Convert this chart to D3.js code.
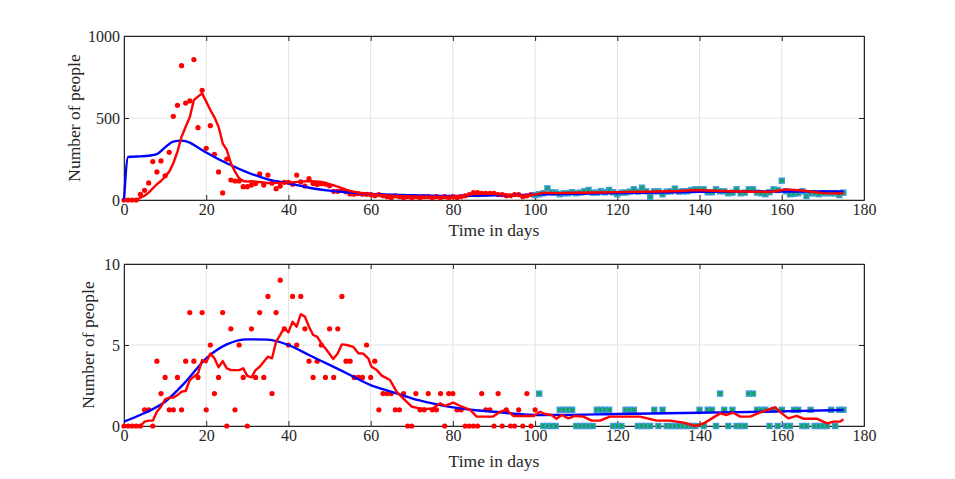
<!DOCTYPE html>
<html><head><meta charset="utf-8">
<script src="https://cdn.jsdelivr.net/npm/d3@7"></script>
<style>body{margin:0;background:#fff}svg{display:block}</style>
</head><body>
<svg id="chart" width="955" height="479"></svg>
<script>
// ---------- DATA ----------
const xTicks = [0,20,40,60,80,100,120,140,160,180];
const topYTicks = [0,500,1000];
const botYTicks = [0,5,10];

// Top panel: daily observed (red dots), days 0..100
const topDotValues = [0,0,0,0,35,59,104,234,171,238,148,291,510,577,819,591,604,856,441,669,315,453,279,171,43,250,122,116,116,81,81,91,100,159,91,152,102,69,85,108,108,96,152,110,85,130,101,95,99,97,87,53,53,59,51,37,35,39,35,35,33,26,33,26,20,14,26,20,14,20,14,20,14,20,20,14,20,14,20,14,20,14,20,26,33,45,45,41,41,41,41,33,33,26,26,33,33,20,26,33,26];
// Top panel: squares, days 100..175
const topSqValues = [30,35,41,71,47,45,35,41,41,47,41,45,53,61,45,45,53,47,61,47,35,45,45,51,65,51,75,53,20,53,53,35,51,53,69,51,53,53,61,65,65,65,47,47,65,53,53,41,45,65,41,45,65,65,45,41,35,47,65,61,118,53,35,38,41,53,24,41,41,35,41,41,41,41,30,45];
// Top panel red (averaged) line
const topRedDays = [0,1,2,3,4,5,6,7,8,9,10,11,12,13,14,15,16,17,18,19,20,21,22,23,24,25,26,27,28,29,30,31,35,40,43,45,48,50,52,54,55,57,60,63,65,70,75,80,83,85,88,90,93,95,98,100,102,105,110,115,120,125,130,135,139,145,150,155,158,161,165,170,175];
const topRedValues = [0,0,0,0,14,26,45,71,96,116,142,173,224,295,386,447,504,610,630,650,600,549,504,447,346,305,224,173,132,116,112,114,104,106,112,116,110,97,81,63,55,45,37,30,26,22,20,22,26,37,40,38,32,28,30,33,45,42,44,46,48,50,52,55,61,55,52,50,52,65,58,42,40];
// Top panel blue (model) line
const topBlueDays = [0,1,2,4,6,8,10,12,14,16,18,20,25,30,35,40,45,50,55,60,70,80,90,100,110,120,130,140,150,160,170,175];
const topBlueValues = [0,262,264,266,270,280,321,356,362,350,320,290,224,169,126,102,75,57,45,37,30,25,28,33,38,42,46,50,51,52,52,52];

// Bottom panel: daily observed (red dots), days 0..100
const botDotValues = [0,0,0,0,0,1,1,0,4,2,3,1,1,3,1,4,7,4,3,7,1,5,2,3,7,0,6,1,5,3,0,6,3,7,3,8,2,7,9,6,5,8,5,8,6,4,3,4,5,3,6,3,6,8,4,4,3,3,3,5,3,4,1,2,2,2,1,1,2,0,0,2,1,1,2,1,1,2,0,2,2,1,1,0,0,0,0,2,1,1,0,2,0,1,0,0,1,0,2,0,1];
// Bottom panel squares, days 101..175
const botSqValues = [2,0,0,0,0,1,1,1,1,0,0,0,0,0,1,1,1,1,0,0,0,1,1,1,0,0,0,0,1,0,1,0,0,0,0,0,0,0,0,1,0,1,1,0,2,1,0,1,0,0,0,2,2,1,1,1,0,1,0,1,0,0,1,1,0,0,1,0,0,0,0,1,0,1,1];
// Bottom red (averaged) line
const botRedDays = [0,1,2,3,4,5,6,7,8,9,10,11,12,13,14,15,16,17,18,19,20,21,22,23,24,25,26,27,28,29,30,31,32,33,34,35,36,37,38,39,40,41,42,43,44,45,46,47,48,49.3,50.9,52,53,54.2,55.8,57,58.2,59.4,60.2,61.5,62.7,64.7,66.3,67.9,70,72,73.6,75.2,76.9,78.1,80.1,81.7,84.2,85.8,89.8,91.5,93.1,94.7,99.6,101.2,102.4,104,105.2,106.5,108.1,109.7,111.7,113.8,115.8,118.2,121.5,125.5,129.6,132.8,136.1,138.9,141,143,145,146.6,148.2,149.9,152.3,154.7,156.5,158.4,160,161.6,163.6,165.3,168.5,171,172.6,174.2,175];
const botRedValues = [0,0,0,0,0,0.27,0.33,0.33,0.88,1.19,1.65,1.75,1.75,1.91,2.12,2.16,2.84,3.05,3.25,4.07,3.93,4.47,4.18,3.62,4.01,3.56,3.45,3.45,3.45,3.56,3.09,3.0,3.45,3.66,3.97,4.28,4.18,5.2,5.62,6.07,5.78,6.44,6.13,6.9,6.75,6.13,5.62,5.51,5.1,4.69,4.14,4.49,5.04,5.0,4.88,4.49,4.47,4.18,3.66,3.45,3.11,2.84,2.12,1.71,1.19,1.09,1.05,1.09,1.4,1.25,1.44,1.25,0.99,0.58,0.58,0.88,0.99,0.62,0.62,0.88,0.74,0.68,0.45,0.68,0.47,0.62,0.58,0.33,0.33,0.58,0.58,0.58,0.33,0.33,0.21,0,0.16,0.47,0.78,0.68,0.82,0.58,0.58,0.82,0.99,1.15,0.78,0.47,0.62,0.45,0.45,0.16,0.27,0.27,0.41];
// Bottom blue (model) line
const botBlueDays = [0,5,10,15,20,25,30,35,40,45,50,55,60,65,70,75,80,85,90,95,100,120,140,160,175];
const botBlueValues = [0.27,0.8,1.5,2.73,4.18,5.04,5.35,5.33,5.0,4.38,3.77,3.15,2.53,2.12,1.71,1.4,1.15,0.99,0.88,0.76,0.68,0.74,0.82,0.9,0.99];

// ---------- DRAW ----------
const svg = d3.select("#chart");
const FONT = "Liberation Serif, Times New Roman, serif";
const RED = "#ff0000", BLUE = "#0000ff";

function panel(cfg){
  const x = d3.scaleLinear().domain([0,180]).range([124,864]);
  const y = d3.scaleLinear().domain([0,cfg.ymax]).range([cfg.bottom,cfg.top]);
  const g = svg.append("g").style("font-family",FONT);
  // grid
  g.append("g").selectAll("line").data(xTicks.slice(1,-1)).join("line")
    .attr("x1",d=>x(d)).attr("x2",d=>x(d)).attr("y1",cfg.top).attr("y2",cfg.bottom)
    .attr("stroke","#e3e3e3").attr("stroke-width",1);
  g.append("g").selectAll("line").data(cfg.yTicks.slice(1,-1)).join("line")
    .attr("x1",124).attr("x2",864).attr("y1",d=>y(d)).attr("y2",d=>y(d))
    .attr("stroke","#e3e3e3").attr("stroke-width",1);
  // frame
  g.append("rect").attr("x",124).attr("y",cfg.top).attr("width",740).attr("height",cfg.bottom-cfg.top)
    .attr("fill","none").attr("stroke","#8c8c8c").attr("stroke-width",1);
  // axes (ticks inward)
  const fmt = d3.format("d");
  const xa = g.append("g").attr("transform",`translate(0,${cfg.bottom})`)
    .call(d3.axisBottom(x).tickValues(xTicks).tickFormat(fmt).tickSizeInner(-5).tickSizeOuter(0).tickPadding(4));
  const xaTop = g.append("g").attr("transform",`translate(0,${cfg.top})`)
    .call(d3.axisTop(x).tickValues(xTicks).tickSizeInner(-5).tickSizeOuter(0).tickFormat(""));
  const ya = g.append("g").attr("transform",`translate(124,0)`)
    .call(d3.axisLeft(y).tickValues(cfg.yTicks).tickFormat(fmt).tickSizeInner(-5).tickSizeOuter(0).tickPadding(4));
  const yaR = g.append("g").attr("transform",`translate(864,0)`)
    .call(d3.axisRight(y).tickValues(cfg.yTicks).tickSizeInner(-5).tickSizeOuter(0).tickFormat(""));
  [xa,xaTop,ya,yaR].forEach(a=>{
    a.attr("font-family",FONT).attr("font-size",16);
    a.select(".domain").attr("stroke","#262626");
    a.selectAll(".tick line").attr("stroke","#262626");
    a.selectAll("text").attr("font-family",FONT).attr("font-size",16).attr("fill","#262626");
  });
  // labels
  g.append("text").attr("x",494).attr("y",cfg.xlabY).attr("text-anchor","middle")
    .attr("font-family",FONT).attr("font-size",17.5).attr("fill","#262626").text("Time in days");
  g.append("text").attr("transform",`translate(${cfg.ylabX},${(cfg.top+cfg.bottom)/2}) rotate(-90)`)
    .attr("text-anchor","middle").attr("font-family",FONT).attr("font-size",17.5).attr("fill","#262626")
    .text("Number of people");

  const plot = g.append("g");
  // red dots
  plot.selectAll("circle").data(cfg.dots).join("circle")
    .attr("cx",(d,i)=>x(i)).attr("cy",d=>y(d)).attr("r",2.6).attr("fill",RED);
  // squares
  plot.selectAll("rect.sq").data(cfg.sq).join("rect").attr("class","sq")
    .attr("x",(d,i)=>x(cfg.sqStart+i)-2.5).attr("y",d=>y(d)-2.5).attr("width",5).attr("height",5)
    .attr("fill","#12a35a").attr("stroke","#3d9bd6").attr("stroke-width",1.4);
  const line = d3.line().x(d=>x(d[0])).y(d=>y(d[1])).curve(d3.curveMonotoneX);
  plot.append("path").datum(cfg.blueDays.map((d,i)=>[d,cfg.blueVals[i]]))
    .attr("d",line).attr("fill","none").attr("stroke",BLUE).attr("stroke-width",2.4);
  plot.append("path").datum(cfg.redDays.map((d,i)=>[d,cfg.redVals[i]]))
    .attr("d",d3.line().x(d=>x(d[0])).y(d=>y(d[1]))).attr("fill","none").attr("stroke",RED).attr("stroke-width",2.4)
    .attr("stroke-linejoin","round");
}

panel({top:36,bottom:200,ymax:1000,yTicks:topYTicks,ylabX:80,xlabY:236,
  dots:topDotValues,sq:topSqValues,sqStart:100,
  redDays:topRedDays,redVals:topRedValues,blueDays:topBlueDays,blueVals:topBlueValues});
panel({top:264,bottom:426,ymax:10,yTicks:botYTicks,ylabX:94,xlabY:467,
  dots:botDotValues,sq:botSqValues,sqStart:101,
  redDays:botRedDays,redVals:botRedValues,blueDays:botBlueDays,blueVals:botBlueValues});
</script>
</body></html>
